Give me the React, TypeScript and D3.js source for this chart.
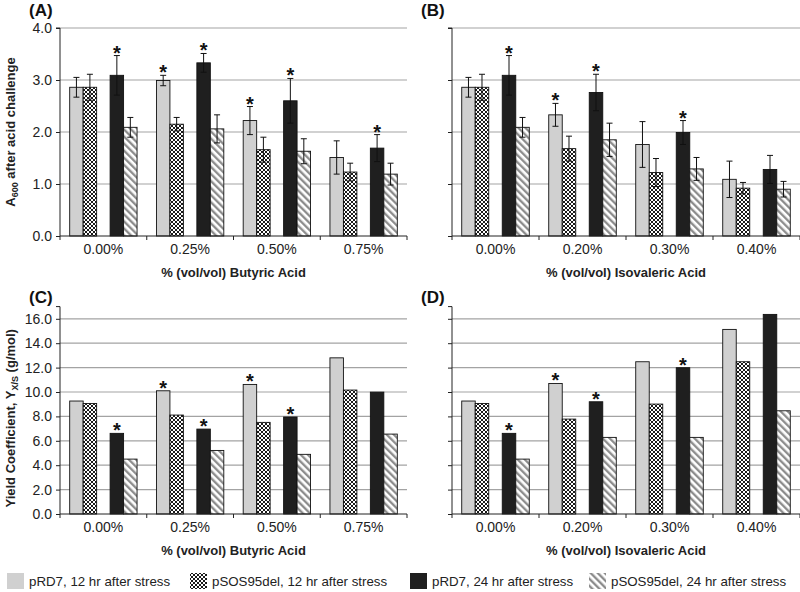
import * as d3 from 'd3';
import { useRef, useEffect } from 'react';

// series, in legend order
const seriesNames = [
    'pRD7, 12 hr after stress',
    'pSOS95del, 12 hr after stress',
    'pRD7, 24 hr after stress',
    'pSOS95del, 24 hr after stress',
];

const butyricLevels = ['0.00%', '0.25%', '0.50%', '0.75%'];
const isovalericLevels = ['0.00%', '0.20%', '0.30%', '0.40%'];

// (A) A600 after butyric acid challenge
const butyricA600 = [
    [2.86, 2.99, 2.22, 1.51],
    [2.86, 2.15, 1.66, 1.23],
    [3.09, 3.33, 2.60, 1.69],
    [2.09, 2.06, 1.63, 1.19],
];
const butyricA600Err = [
    [0.19, 0.10, 0.27, 0.32],
    [0.25, 0.13, 0.24, 0.17],
    [0.38, 0.18, 0.43, 0.26],
    [0.19, 0.27, 0.24, 0.21],
];
const butyricA600Stars = [
    [0, 1, 1, 0],
    [0, 0, 0, 0],
    [1, 1, 1, 1],
    [0, 0, 0, 0],
];

// (B) A600 after isovaleric acid challenge
const isovalericA600 = [
    [2.86, 2.33, 1.76, 1.09],
    [2.86, 1.68, 1.22, 0.92],
    [3.09, 2.76, 1.99, 1.28],
    [2.09, 1.85, 1.29, 0.90],
];
const isovalericA600Err = [
    [0.19, 0.22, 0.44, 0.35],
    [0.25, 0.24, 0.27, 0.11],
    [0.38, 0.35, 0.23, 0.27],
    [0.19, 0.32, 0.22, 0.15],
];
const isovalericA600Stars = [
    [0, 1, 0, 0],
    [0, 0, 0, 0],
    [1, 1, 1, 0],
    [0, 0, 0, 0],
];

// (C) yield coefficient, butyric
const butyricYield = [
    [9.26, 10.10, 10.62, 12.80],
    [9.06, 8.11, 7.51, 10.16],
    [6.61, 6.96, 7.95, 9.99],
    [4.50, 5.21, 4.89, 6.55],
];
const butyricYieldStars = [
    [0, 1, 1, 0],
    [0, 0, 0, 0],
    [1, 1, 1, 0],
    [0, 0, 0, 0],
];

// (D) yield coefficient, isovaleric
const isovalericYield = [
    [9.26, 10.70, 12.48, 15.13],
    [9.06, 7.78, 9.01, 12.48],
    [6.61, 9.20, 11.99, 16.36],
    [4.50, 6.28, 6.28, 8.46],
];
const isovalericYieldStars = [
    [0, 1, 0, 0],
    [0, 0, 0, 0],
    [1, 1, 1, 0],
    [0, 0, 0, 0],
];

const a600Ticks = [0, 1, 2, 3, 4];
const yieldTicks = [0, 2, 4, 6, 8, 10, 12, 14, 16];

const FONT = '"Liberation Sans", Arial, sans-serif';
const fills = ['#d0d0d0', 'url(#cross)', '#1f1f1f', 'url(#hatch)'];

interface PanelCfg {
    label: string;
    labelY: number;
    x0: number;
    x1: number;
    yTop: number;
    yBottom: number;
    yMax: number;
    ticks: number[];
    showTickLabels: boolean;
    categories: string[];
    values: number[][];
    errs?: number[][];
    stars: number[][];
    xTitle: string;
}

function drawPanel(svg: d3.Selection<SVGSVGElement, unknown, null, undefined>, cfg: PanelCfg) {
    const g = svg.append('g');

    const y = d3.scaleLinear().domain([0, cfg.yMax]).range([cfg.yBottom, cfg.yTop]);
    const x = d3.scaleBand().domain(cfg.categories).range([cfg.x0, cfg.x1]).padding(0);
    // 4 bars in 5 slots, the middle slot is left empty
    const slot = d3.scaleBand()
        .domain(['s0', 's1', 'gap', 's2', 's3'])
        .range([0, x.bandwidth()])
        .paddingInner(0)
        .paddingOuter(0.72);
    const slotKeys = ['s0', 's1', 's2', 's3'];

    // gridlines
    g.append('g')
        .selectAll('line')
        .data(cfg.ticks.filter(t => t > 0))
        .enter()
        .append('line')
        .attr('x1', cfg.x0)
        .attr('x2', cfg.x1)
        .attr('y1', d => y(d))
        .attr('y2', d => y(d))
        .attr('stroke', '#a3a3a3')
        .attr('stroke-width', 1.2);

    // bars
    const rows = cfg.values.flatMap((vals, s) =>
        vals.map((v, i) => ({
            s,
            cat: cfg.categories[i],
            v,
            err: cfg.errs ? cfg.errs[s][i] : 0,
            star: cfg.stars[s][i],
        }))
    );
    const bx = (d: typeof rows[number]) => (x(d.cat) || 0) + (slot(slotKeys[d.s]) || 0);

    g.append('g')
        .selectAll('rect')
        .data(rows)
        .enter()
        .append('rect')
        .attr('x', d => bx(d))
        .attr('y', d => y(d.v))
        .attr('width', slot.bandwidth())
        .attr('height', d => cfg.yBottom - y(d.v))
        .attr('fill', d => fills[d.s])
        .attr('stroke', '#111')
        .attr('stroke-width', 0.9);

    // error bars
    if (cfg.errs) {
        const eg = g.append('g').attr('stroke', '#111').attr('stroke-width', 1);
        rows.forEach(d => {
            const cx = bx(d) + slot.bandwidth() / 2;
            const top = y(d.v + d.err);
            const bot = y(d.v - d.err);
            eg.append('line').attr('x1', cx).attr('x2', cx).attr('y1', top).attr('y2', bot);
            eg.append('line').attr('x1', cx - 3).attr('x2', cx + 3).attr('y1', top).attr('y2', top);
            eg.append('line').attr('x1', cx - 3).attr('x2', cx + 3).attr('y1', bot).attr('y2', bot);
        });
    }

    // significance stars
    g.append('g')
        .selectAll('text')
        .data(rows.filter(d => d.star))
        .enter()
        .append('text')
        .attr('x', d => bx(d) + slot.bandwidth() / 2)
        .attr('y', d => y(d.v + d.err) + 4)
        .attr('text-anchor', 'middle')
        .attr('font-family', FONT)
        .attr('font-weight', 'bold')
        .attr('font-size', 20)
        .attr('fill', '#111')
        .text('*');

    // y axis
    const yAxis = g.append('g')
        .attr('transform', `translate(${cfg.x0},0)`)
        .call(d3.axisLeft(y)
            .tickValues(cfg.ticks)
            .tickSize(4)
            .tickPadding(4)
            .tickFormat(cfg.showTickLabels ? d3.format('.1f') : () => ''));
    yAxis.select('.domain').attr('stroke', '#222').attr('d', `M-4,${cfg.yTop}H0V${cfg.yBottom}`);
    yAxis.selectAll('.tick line').attr('stroke', '#222');
    yAxis.selectAll('.tick text')
        .attr('font-family', FONT)
        .attr('font-size', 14)
        .attr('fill', '#222');

    // x axis: ticks on band boundaries
    const xg = g.append('g');
    xg.append('line')
        .attr('x1', cfg.x0).attr('x2', cfg.x1)
        .attr('y1', cfg.yBottom).attr('y2', cfg.yBottom)
        .attr('stroke', '#222');
    const bounds = [...cfg.categories.map(c => x(c) || 0), cfg.x1];
    xg.selectAll('line.tk')
        .data(bounds)
        .enter()
        .append('line')
        .attr('class', 'tk')
        .attr('x1', d => d).attr('x2', d => d)
        .attr('y1', cfg.yBottom).attr('y2', cfg.yBottom + 4)
        .attr('stroke', '#222');
    xg.selectAll('text')
        .data(cfg.categories)
        .enter()
        .append('text')
        .attr('x', d => (x(d) || 0) + x.bandwidth() / 2)
        .attr('y', cfg.yBottom + 18)
        .attr('text-anchor', 'middle')
        .attr('font-family', FONT)
        .attr('font-size', 14)
        .attr('fill', '#222')
        .text(d => d);

    g.append('text')
        .attr('x', (cfg.x0 + cfg.x1) / 2)
        .attr('y', cfg.yBottom + 41)
        .attr('text-anchor', 'middle')
        .attr('font-family', FONT)
        .attr('font-weight', 'bold')
        .attr('font-size', 13)
        .attr('fill', '#222')
        .text(cfg.xTitle);

    g.append('text')
        .attr('x', cfg.x0 - 31)
        .attr('y', cfg.labelY)
        .attr('font-family', FONT)
        .attr('font-weight', 'bold')
        .attr('font-size', 17)
        .attr('fill', '#111')
        .text(cfg.label);
}

export default function App() {
    const svgRef = useRef<SVGSVGElement>(null);

    useEffect(() => {
        if (!svgRef.current) return;
        const svg = d3.select(svgRef.current);
        svg.selectAll('*').remove();

        const defs = svg.append('defs');
        const cross = defs.append('pattern')
            .attr('id', 'cross')
            .attr('patternUnits', 'userSpaceOnUse')
            .attr('width', 4)
            .attr('height', 4);
        cross.append('rect').attr('width', 4).attr('height', 4).attr('fill', '#1a1a1a');
        cross.append('path')
            .attr('d', 'M0,0L4,4M4,0L0,4')
            .attr('stroke', '#fff')
            .attr('stroke-width', 1);

        const hatch = defs.append('pattern')
            .attr('id', 'hatch')
            .attr('patternUnits', 'userSpaceOnUse')
            .attr('width', 5)
            .attr('height', 5)
            .attr('patternTransform', 'rotate(-45)');
        hatch.append('rect').attr('width', 5).attr('height', 5).attr('fill', '#fff');
        hatch.append('line')
            .attr('x1', 1.2).attr('x2', 1.2).attr('y1', 0).attr('y2', 5)
            .attr('stroke', '#8a8a8a')
            .attr('stroke-width', 2.3);

        svg.append('rect').attr('width', 800).attr('height', 592).attr('fill', '#fff');

        const a600Top = 28, a600Bottom = 236;
        const yieldBottom = 514, yieldTop = 514 - 17 * 12.2;

        drawPanel(svg, {
            label: '(A)', labelY: 16, x0: 60, x1: 407, yTop: a600Top, yBottom: a600Bottom, yMax: 4,
            ticks: a600Ticks, showTickLabels: true, categories: butyricLevels,
            values: butyricA600, errs: butyricA600Err, stars: butyricA600Stars,
            xTitle: '% (vol/vol) Butyric Acid',
        });
        drawPanel(svg, {
            label: '(B)', labelY: 16, x0: 452, x1: 800, yTop: a600Top, yBottom: a600Bottom, yMax: 4,
            ticks: a600Ticks, showTickLabels: false, categories: isovalericLevels,
            values: isovalericA600, errs: isovalericA600Err, stars: isovalericA600Stars,
            xTitle: '% (vol/vol) Isovaleric Acid',
        });
        drawPanel(svg, {
            label: '(C)', labelY: 303, x0: 60, x1: 407, yTop: yieldTop, yBottom: yieldBottom, yMax: 17,
            ticks: yieldTicks, showTickLabels: true, categories: butyricLevels,
            values: butyricYield, stars: butyricYieldStars,
            xTitle: '% (vol/vol) Butyric Acid',
        });
        drawPanel(svg, {
            label: '(D)', labelY: 303, x0: 452, x1: 800, yTop: yieldTop, yBottom: yieldBottom, yMax: 17,
            ticks: yieldTicks, showTickLabels: false, categories: isovalericLevels,
            values: isovalericYield, stars: isovalericYieldStars,
            xTitle: '% (vol/vol) Isovaleric Acid',
        });

        // y axis titles
        const t1 = svg.append('text')
            .attr('transform', `translate(15,${(a600Top + a600Bottom) / 2}) rotate(-90)`)
            .attr('text-anchor', 'middle')
            .attr('font-family', FONT)
            .attr('font-weight', 'bold')
            .attr('font-size', 13)
            .attr('fill', '#222');
        t1.append('tspan').text('A');
        t1.append('tspan').attr('font-size', 9).attr('dy', 3).text('600');
        t1.append('tspan').attr('dy', -3).text(' after acid challenge');

        const t2 = svg.append('text')
            .attr('transform', `translate(15,${(yieldTop + yieldBottom) / 2 + 8}) rotate(-90)`)
            .attr('text-anchor', 'middle')
            .attr('font-family', FONT)
            .attr('font-weight', 'bold')
            .attr('font-size', 13)
            .attr('fill', '#222');
        t2.append('tspan').text('Yield Coefficient, Y');
        t2.append('tspan').attr('font-size', 9).attr('dy', 3).text('X/S');
        t2.append('tspan').attr('dy', -3).text(' (g/mol)');

        // legend
        const legendX = [7, 190, 410, 589];
        const lg = svg.append('g')
            .selectAll('g')
            .data(seriesNames)
            .enter()
            .append('g')
            .attr('transform', (_, i) => `translate(${legendX[i]},573)`);
        lg.append('rect')
            .attr('width', 17)
            .attr('height', 16)
            .attr('fill', (_, i) => fills[i]);
        lg.append('text')
            .attr('x', 22)
            .attr('y', 13)
            .attr('font-family', FONT)
            .attr('font-size', 13.3)
            .attr('fill', '#222')
            .text(d => d);
    }, []);

    return (
        <svg
            ref={svgRef}
            width={800}
            height={592}
            style={{ position: 'absolute', left: 0, top: 0 }}
        />
    );
}
